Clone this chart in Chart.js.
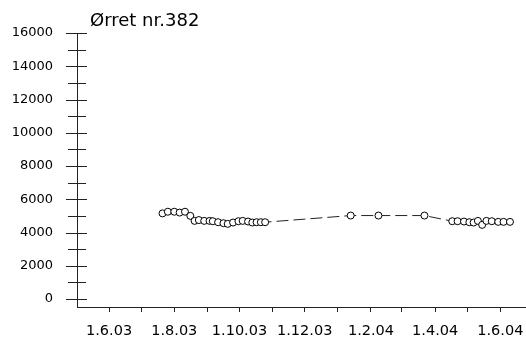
<!DOCTYPE html>
<html>
<head>
<meta charset="utf-8">
<script src="https://cdn.jsdelivr.net/npm/chart.js@4"></script>
<style>
  body { margin: 0; background: #fff; }
  #wrap { width: 526px; height: 345px; position: relative; }
</style>
</head>
<body>
<div id="wrap"><canvas id="chart"></canvas></div>
<script>
// fish weight series
const sampleDates = [
  '2003-07-21', '2003-07-26', '2003-08-01', '2003-08-06', '2003-08-11', '2003-08-16',
  '2003-08-20', '2003-08-24', '2003-08-29', '2003-09-03', '2003-09-06', '2003-09-11',
  '2003-09-16', '2003-09-20', '2003-09-25', '2003-09-30', '2003-10-04', '2003-10-09',
  '2003-10-13', '2003-10-17', '2003-10-21', '2003-10-25',
  '2004-01-13', '2004-02-08', '2004-03-22',
  '2004-04-17', '2004-04-22', '2004-04-28', '2004-05-03', '2004-05-07', '2004-05-11',
  '2004-05-15', '2004-05-19', '2004-05-24', '2004-05-30', '2004-06-04', '2004-06-10'
]
const weights = [
  5150, 5250, 5250, 5200, 5250, 5000,
  4700, 4750, 4700, 4700, 4680, 4620,
  4560, 4520, 4600, 4680, 4700, 4660,
  4600, 4620, 4620, 4620,
  5020, 5020, 5020,
  4680, 4680, 4660, 4620, 4600, 4700,
  4460, 4700, 4680, 4640, 4640, 4640
]

const xTickDates = [
  '2003-06-01', '2003-07-01', '2003-08-01', '2003-09-01', '2003-10-01', '2003-11-01', '2003-12-01',
  '2004-01-01', '2004-02-01', '2004-03-01', '2004-04-01', '2004-05-01', '2004-06-01'
]
const xTickLabels = ['1.6.03', '', '1.8.03', '', '1.10.03', '', '1.12.03', '', '1.2.04', '', '1.4.04', '', '1.6.04']
const xMinDate = '2003-05-02'
const xMaxDate = '2004-06-25'

const yMajor = [0, 2000, 4000, 6000, 8000, 10000, 12000, 14000, 16000]
const yMinor = [1000, 3000, 5000, 7000, 9000, 11000, 13000, 15000]

const title = 'Ørret nr.382'
const fontFamily = '"DejaVu Sans", sans-serif'

function dayNum(s) {
  const p = s.split('-')
  return Date.UTC(+p[0], +p[1] - 1, +p[2]) / 86400000
}

const points = sampleDates.map((d, i) => ({ x: dayNum(d), y: weights[i] }))
const xTicks = xTickDates.map(dayNum)

// y ticks cross the axis line, plus the title text
const axisExtras = {
  id: 'axisExtras',
  afterDraw(chart) {
    const ctx = chart.ctx
    const ys = chart.scales.y
    const left = chart.chartArea.left
    ctx.save()
    ctx.strokeStyle = '#222'
    ctx.lineWidth = 1
    ctx.beginPath()
    yMajor.forEach(v => {
      const p = Math.round(ys.getPixelForValue(v)) + 0.5
      ctx.moveTo(left - 11, p)
      ctx.lineTo(left + 10, p)
    })
    yMinor.forEach(v => {
      const p = Math.round(ys.getPixelForValue(v)) + 0.5
      ctx.moveTo(left - 9, p)
      ctx.lineTo(left + 9, p)
    })
    ctx.stroke()
    ctx.fillStyle = '#000'
    ctx.font = '18px ' + fontFamily
    ctx.textAlign = 'left'
    ctx.textBaseline = 'alphabetic'
    ctx.fillText(title, 90, 26)
    ctx.restore()
  }
}

new Chart(document.getElementById('chart'), {
  type: 'line',
  data: {
    datasets: [{
      data: points,
      borderColor: '#222',
      borderWidth: 1,
      borderDash: [12, 5],
      pointRadius: 3.5,
      pointBorderWidth: 1,
      pointBorderColor: '#000',
      pointBackgroundColor: '#fff',
      tension: 0
    }]
  },
  options: {
    responsive: true,
    maintainAspectRatio: false,
    animation: false,
    layout: { autoPadding: false, padding: { top: 33, right: 0, left: 0, bottom: 0 } },
    plugins: { legend: { display: false }, tooltip: { enabled: false }, title: { display: false } },
    scales: {
      x: {
        type: 'linear',
        min: dayNum(xMinDate),
        max: dayNum(xMaxDate),
        afterBuildTicks: s => { s.ticks = xTicks.map(v => ({ value: v })) },
        afterFit: s => { s.height = 38; s.paddingLeft = 0; s.paddingRight = 0 },
        grid: { drawOnChartArea: false, drawTicks: true, tickLength: 5, color: '#222' },
        border: { display: true, color: '#222', width: 1 },
        ticks: {
          autoSkip: false,
          maxRotation: 0,
          padding: 11,
          color: '#000',
          font: { family: fontFamily, size: 14.5 },
          callback: (v, i) => xTickLabels[i]
        }
      },
      y: {
        min: -480,
        max: 16000,
        afterBuildTicks: s => { s.ticks = yMajor.map(v => ({ value: v })) },
        afterFit: s => { s.width = 77; s.paddingTop = 0; s.paddingBottom = 0 },
        grid: { display: false, drawTicks: false },
        border: { display: true, color: '#222', width: 1 },
        ticks: {
          padding: 24,
          color: '#000',
          font: { family: fontFamily, size: 13 },
          callback: v => String(v)
        }
      }
    }
  },
  plugins: [axisExtras]
})
</script>
</body>
</html>
